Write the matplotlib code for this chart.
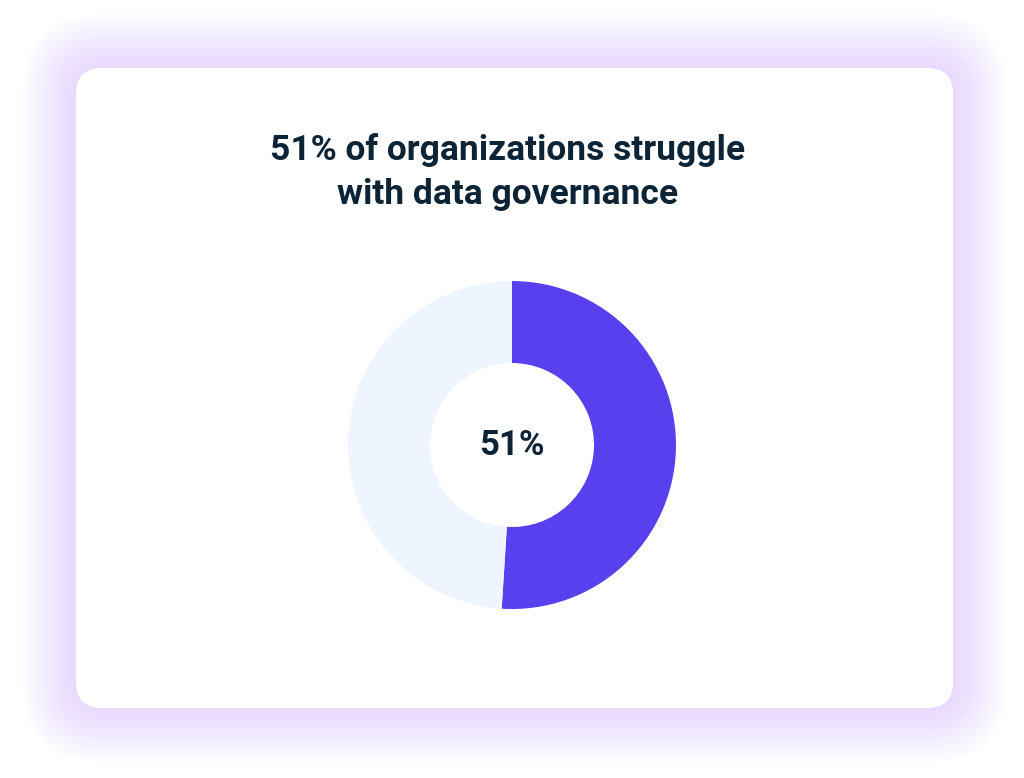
import matplotlib.pyplot as plt
from matplotlib.patches import FancyBboxPatch

labels = ["Struggle", "Other"]
values = [51, 49]
colors = ["#5840ef", "#eef5ff"]
title = "51% of organizations struggle\nwith data governance"
center_text = "51%"

fig = plt.figure(figsize=(10.24, 7.78), dpi=100)
fig.patch.set_facecolor("white")

# background card with soft lavender glow, pixel coordinates
bg = fig.add_axes([0, 0, 1, 1])
bg.set_xlim(0, 1024)
bg.set_ylim(778, 0)
bg.axis("off")
for i in range(20):
    pad = 90 - i * 4.5
    bg.add_patch(FancyBboxPatch((76 - pad * 0.6, 68 - pad * 0.6), 877 + pad * 1.2, 640 + pad * 1.2,
                                boxstyle="round,pad=0,rounding_size=%d" % (26 + pad * 0.6),
                                facecolor="#7b61ff", edgecolor="none", alpha=0.007))
bg.add_patch(FancyBboxPatch((76, 68), 877, 640, boxstyle="round,pad=0,rounding_size=26",
                            facecolor="white", edgecolor="none"))
bg.text(508, 172, title, ha="center", va="center", fontsize=25.5, fontweight="bold",
        color="#0d2436", linespacing=1.45, family="Roboto")

# donut
ax = fig.add_axes([0.5 - 0.16016, 0.428 - 0.2108, 0.3203, 0.4216])
ax.pie(values, colors=colors, startangle=90, counterclock=False, radius=1,
       wedgeprops=dict(width=0.5, edgecolor="none"))
ax.set_xlim(-1, 1)
ax.set_ylim(-1, 1)
ax.text(0, 0, center_text, ha="center", va="center", fontsize=25, fontweight="bold",
        color="#0d2436", family="Roboto")

fig.savefig("out.png", dpi=100)
